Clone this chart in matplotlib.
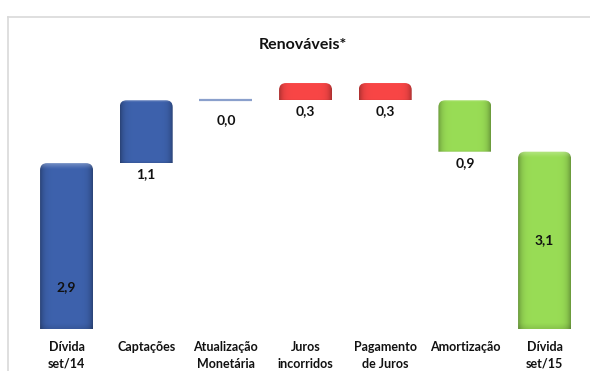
import numpy as np
import matplotlib
matplotlib.use("Agg")
import matplotlib.pyplot as plt
from matplotlib.path import Path
from matplotlib.patches import PathPatch
from matplotlib.lines import Line2D
from matplotlib.colors import to_rgb

plt.rcParams['font.family'] = ['Lato', 'DejaVu Sans']

# --- data -------------------------------------------------------------
title = "Renováveis*"
categories = ["Dívida\nset/14", "Captações", "Atualização\nMonetária",
              "Juros\nincorridos", "Pagamento\nde Juros", "Amortização",
              "Dívida\nset/15"]
opening_debt = 2.9
changes = [1.1, 0.0, 0.3, -0.3, -0.9]
closing_debt = 3.1

# --- style -------------------------------------------------------------
BLUE = "#3b5ea6"
RED = "#ef4343"
GREEN = "#93d452"
bar_colors = [BLUE, BLUE, BLUE, RED, RED, GREEN, GREEN]
BAR_W = 0.665
RADIUS_PX = 7

W, H, DPI = 590, 371, 100
fig = plt.figure(figsize=(W / DPI, H / DPI), dpi=DPI)
fig.patch.set_facecolor("white")

# axes placed in pixel units: bar base at 42 px from bottom
ax_left, ax_bottom, ax_w, ax_h = 26.7, 42, 557.7, 309
ax = fig.add_axes([ax_left / W, ax_bottom / H, ax_w / W, ax_h / H])
ax.set_xlim(-0.5, len(categories) - 0.5)
ax.set_ylim(0, ax_h / 57.2)
ax.axis("off")

px_per_x = ax_w / len(categories)
px_per_y = ax_h / (ax.get_ylim()[1])
rx = RADIUS_PX / px_per_x
ry = RADIUS_PX / px_per_y


def top_rounded_path(x0, x1, y0, y1, rx, ry):
    ry = min(ry, (y1 - y0))
    verts = [(x0, y0), (x0, y1 - ry), (x0, y1), (x0 + rx, y1),
             (x1 - rx, y1), (x1, y1), (x1, y1 - ry), (x1, y0), (x0, y0)]
    codes = [Path.MOVETO, Path.LINETO, Path.CURVE3, Path.CURVE3,
             Path.LINETO, Path.CURVE3, Path.CURVE3, Path.LINETO,
             Path.CLOSEPOLY]
    return Path(verts, codes)


def bevel_image(color, nx=80, ny=120):
    base = np.array(to_rgb(color))
    t = np.linspace(0, 1, nx)
    # darker sides, slightly brighter middle
    prof = 1.04 - 0.32 * np.abs(2 * t - 1) ** 7
    v = np.linspace(0, 1, ny)  # 0 = bottom, 1 = top
    vert = 1.0 - 0.10 * np.clip((0.03 - v) / 0.03, 0, 1)
    shade = vert[:, None] * prof[None, :]
    img = np.clip(base[None, None, :] * shade[:, :, None], 0, 1)
    # highlight along the upper edge
    top = np.clip((v - 0.97) / 0.03, 0, 1)[:, None, None]
    img = img * (1 - 0.25 * top) + 0.25 * top * np.ones(3)
    return img


def draw_bar(x, bottom, top, color):
    x0, x1 = x - BAR_W / 2, x + BAR_W / 2
    path = top_rounded_path(x0, x1, bottom, top, rx, ry)
    patch = PathPatch(path, facecolor="none", edgecolor="none")
    ax.add_patch(patch)
    im = ax.imshow(bevel_image(color), extent=(x0, x1, bottom, top),
                   origin="lower", aspect="auto", interpolation="bilinear",
                   zorder=2)
    im.set_clip_path(patch)


def fmt(v):
    return f"{abs(v):.1f}".replace(".", ",")


lbl_kw = dict(ha="center", va="center", fontsize=10, fontweight="bold",
              color="#111111", zorder=5)

# opening total
draw_bar(0, 0, opening_debt, bar_colors[0])
ax.text(0, opening_debt * 0.25, fmt(opening_debt), **lbl_kw)

# floating changes
level = opening_debt
for i, d in enumerate(changes, start=1):
    lo, hi = min(level, level + d), max(level, level + d)
    if d == 0:
        ax.plot([i - BAR_W / 2, i + BAR_W / 2], [level, level],
                color="#8aa0cc", lw=1.6, solid_capstyle="butt", zorder=2)
        off = 20
    else:
        draw_bar(i, lo, hi, bar_colors[i])
        off = 11
    ax.annotate(fmt(d), (i, lo), xytext=(0, -off * 72 / DPI),
                textcoords="offset points", **lbl_kw)
    level += d

# closing total
n = len(categories) - 1
draw_bar(n, 0, closing_debt, bar_colors[n])
ax.text(n, closing_debt * 0.5, fmt(closing_debt), **lbl_kw)

# category labels under the bars
for i, c in enumerate(categories):
    ax.annotate(c, (i, 0), xytext=(0, -12 * 72 / DPI),
                textcoords="offset points", ha="center", va="top",
                fontsize=9, fontweight="bold", color="#111111",
                linespacing=1.45, annotation_clip=False)

# title
fig.text(303 / W, 1 - 45 / H, title, ha="center", va="center",
         fontsize=11.5, fontweight="bold", color="#111111")

# chart area frame (top and left edges)
fc = "#d9d9d9"
fig.add_artist(Line2D([7.5 / W, 1], [1 - 17 / H, 1 - 17 / H],
                      transform=fig.transFigure, color=fc, lw=1.2))
fig.add_artist(Line2D([7.5 / W, 7.5 / W], [0, 1 - 17 / H],
                      transform=fig.transFigure, color=fc, lw=1.2))

fig.savefig("out.png", dpi=DPI, facecolor="white")
